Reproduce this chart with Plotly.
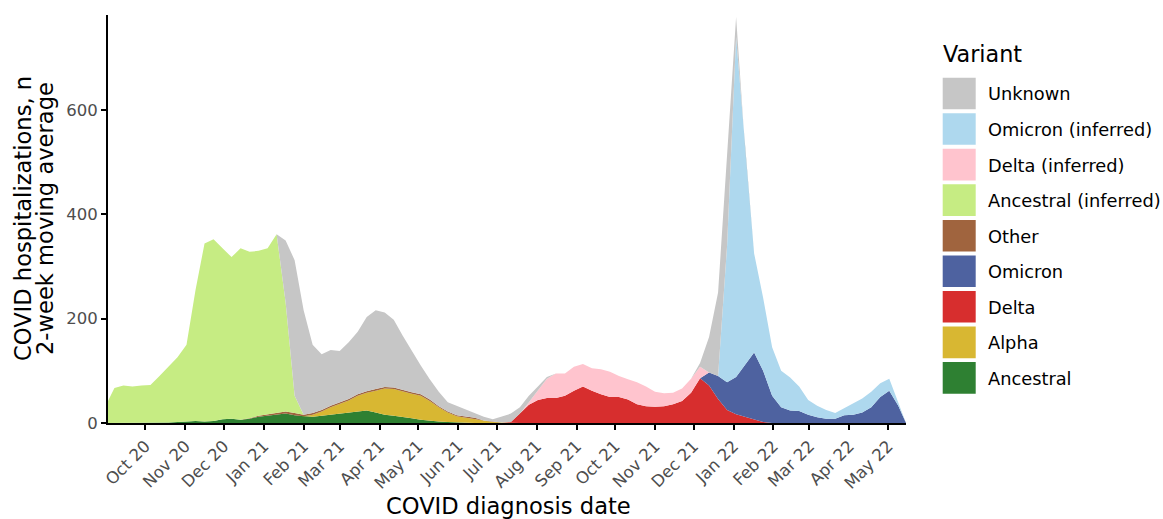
import pandas as pd
import plotly.graph_objects as go

# ---- categories (dates) ----
dates = (["2020-09-02"]
         + [d.strftime("%Y-%m-%d") for d in pd.date_range("2020-09-07", "2022-05-09", freq="7D")]
         + ["2022-05-15"])

# ---- series values (2-week moving average of hospitalizations) ----
ancestral = [0, 0, 0, 0, 0, 0, 0, 1, 2, 3,
             4, 3, 4, 7, 8, 6, 8, 12, 14, 16,
             18, 15, 13, 12, 14, 16, 18, 20, 22, 24,
             20, 16, 14, 12, 9, 6, 4, 3, 2, 1,
             0, 0, 0, 0, 0, 0, 0, 0, 0, 0,
             0, 0, 0, 0, 0, 0, 0, 0, 0, 0,
             0, 0, 0, 0, 0, 0, 0, 0, 0, 0,
             0, 0, 0, 0, 0, 0, 0, 0, 0, 0,
             0, 0, 0, 0, 0, 0, 0, 0, 0, 0]

alpha = [0, 0, 0, 0, 0, 0, 0, 0, 0, 0,
         0, 0, 0, 0, 0, 0, 0, 0, 0, 0,
         0, 0, 0, 4, 8, 14, 19, 23, 30, 34,
         42, 50, 51, 48, 47, 46, 38, 27, 18, 12,
         10, 8, 4, 2, 1, 0, 0, 0, 0, 0,
         0, 0, 0, 0, 0, 0, 0, 0, 0, 0,
         0, 0, 0, 0, 0, 0, 0, 0, 0, 0,
         0, 0, 0, 0, 0, 0, 0, 0, 0, 0,
         0, 0, 0, 0, 0, 0, 0, 0, 0, 0]

delta = [0, 0, 0, 0, 0, 0, 0, 0, 0, 0,
         0, 0, 0, 0, 0, 0, 0, 0, 0, 0,
         0, 0, 0, 0, 0, 0, 0, 0, 0, 0,
         0, 0, 0, 0, 0, 0, 0, 0, 0, 0,
         0, 0, 0, 0, 0, 2, 18, 35, 44, 48,
         48, 52, 62, 70, 62, 55, 50, 50, 45, 36,
         32, 31, 32, 36, 42, 58, 86, 72, 46, 25,
         17, 12, 7, 2, 0, 0, 0, 0, 0, 0,
         0, 0, 0, 0, 0, 0, 0, 0, 0, 0]

omicron = [0, 0, 0, 0, 0, 0, 0, 0, 0, 0,
           0, 0, 0, 0, 0, 0, 0, 0, 0, 0,
           0, 0, 0, 0, 0, 0, 0, 0, 0, 0,
           0, 0, 0, 0, 0, 0, 0, 0, 0, 0,
           0, 0, 0, 0, 0, 0, 0, 0, 0, 0,
           0, 0, 0, 0, 0, 0, 0, 0, 0, 0,
           0, 0, 0, 0, 0, 0, 0, 25, 44, 53,
           71, 100, 128, 98, 52, 30, 24, 23, 16, 11,
           8, 8, 15, 16, 20, 30, 50, 62, 33, 0]

other = [0, 0, 0, 0, 0, 0, 0, 0, 0, 0,
         0, 0, 0, 0, 0, 0, 1, 2, 3, 3,
         4, 4, 3, 3, 3, 3, 3, 3, 3, 3,
         3, 3, 3, 3, 3, 3, 3, 2, 2, 2,
         2, 2, 1, 1, 0, 0, 0, 0, 0, 0,
         0, 0, 0, 0, 0, 0, 0, 0, 0, 0,
         0, 0, 0, 0, 0, 0, 0, 0, 0, 0,
         0, 0, 0, 0, 0, 0, 0, 0, 0, 0,
         0, 0, 0, 0, 0, 0, 0, 0, 0, 0]

ancestral_inferred = [42, 67, 72, 70, 72, 73, 90, 107, 124, 147,
                      251, 341, 348, 328, 310, 329, 319, 316, 318, 343,
                      209, 33, 0, 0, 0, 0, 0, 0, 0, 0,
                      0, 0, 0, 0, 0, 0, 0, 0, 0, 0,
                      0, 0, 0, 0, 0, 0, 0, 0, 0, 0,
                      0, 0, 0, 0, 0, 0, 0, 0, 0, 0,
                      0, 0, 0, 0, 0, 0, 0, 0, 0, 0,
                      0, 0, 0, 0, 0, 0, 0, 0, 0, 0,
                      0, 0, 0, 0, 0, 0, 0, 0, 0, 0]

delta_inferred = [0, 0, 0, 0, 0, 0, 0, 0, 0, 0,
                  0, 0, 0, 0, 0, 0, 0, 0, 0, 0,
                  0, 0, 0, 0, 0, 0, 0, 0, 0, 0,
                  0, 0, 0, 0, 0, 0, 0, 0, 0, 0,
                  0, 0, 0, 0, 0, 0, 0, 5, 18, 37,
                  47, 43, 46, 43, 43, 48, 48, 40, 39, 42,
                  38, 29, 25, 22, 24, 27, 22, 0, 0, 0,
                  0, 0, 0, 0, 0, 0, 0, 0, 0, 0,
                  0, 0, 0, 0, 0, 0, 0, 0, 0, 0]

omicron_inferred = [0, 0, 0, 0, 0, 0, 0, 0, 0, 0,
                    0, 0, 0, 0, 0, 0, 0, 0, 0, 0,
                    0, 0, 0, 0, 0, 0, 0, 0, 0, 0,
                    0, 0, 0, 0, 0, 0, 0, 0, 0, 0,
                    0, 0, 0, 0, 0, 0, 0, 0, 0, 0,
                    0, 0, 0, 0, 0, 0, 0, 0, 0, 0,
                    0, 0, 0, 0, 0, 0, 0, 0, 0, 262,
                    652, 413, 190, 140, 93, 70, 63, 47, 28, 22,
                    17, 11, 13, 22, 27, 30, 26, 23, 7, 0]

unknown = [0, 0, 0, 0, 0, 0, 0, 0, 0, 0,
           0, 0, 0, 0, 0, 0, 0, 0, 0, 0,
           119, 260, 200, 131, 107, 107, 98, 109, 120, 142,
           151, 143, 130, 104, 79, 55, 39, 28, 18, 18,
           13, 9, 7, 4, 12, 16, 12, 12, 8, 3,
           0, 0, 0, 0, 0, 0, 0, 0, 0, 0,
           0, 0, 0, 0, 0, 0, 7, 68, 160, 170,
           38, 0, 0, 0, 0, 0, 0, 0, 0, 0,
           0, 0, 0, 0, 0, 0, 0, 0, 0, 0]

y_ticks = [0, 200, 400, 600]

# stacking order: bottom first
series = [
    ("Ancestral", ancestral, "#2E8032"),
    ("Alpha", alpha, "#D8B732"),
    ("Delta", delta, "#D72E2E"),
    ("Omicron", omicron, "#4E62A0"),
    ("Other", other, "#A0643E"),
    ("Ancestral (inferred)", ancestral_inferred, "#C6EC83"),
    ("Delta (inferred)", delta_inferred, "#FFC4CE"),
    ("Omicron (inferred)", omicron_inferred, "#AED8EE"),
    ("Unknown", unknown, "#C6C6C6"),
]

for _, vals, _c in series:
    assert len(vals) == len(dates), (len(vals), len(dates))

fig = go.Figure()
for name, vals, col in series:
    fig.add_trace(go.Scatter(
        x=dates, y=vals, name=name, mode="lines", stackgroup="one",
        line=dict(width=0, color=col), fillcolor=col, showlegend=False,
    ))

W, H = 1163, 519
L, R, T, B = 108, 906, 15, 423  # plot area in pixels


def px(xp):
    return (xp - L) / (R - L)


def py(yp):
    return (B - yp) / (B - T)


FONT = "DejaVu Sans"
TICK_SIZE = 16.5
TICK_COLOR = "#4D4D4D"

fig.update_layout(
    template="none",
    width=W, height=H,
    margin=dict(l=L, r=W - R, t=T, b=H - B, pad=0),
    plot_bgcolor="white", paper_bgcolor="white",
    font=dict(family=FONT, size=TICK_SIZE, color="black"),
    showlegend=False,
)
fig.update_xaxes(
    type="date", range=["2020-09-02", "2022-05-15"],
    tickformat="%b %y", dtick="M1", tick0="2020-10-01", tickangle=-45,
    ticks="outside", ticklen=5, tickwidth=1.5, tickcolor="black",
    showline=True, linecolor="black", linewidth=2,
    showgrid=False, zeroline=False, automargin=False,
    tickfont_family=FONT, tickfont_size=TICK_SIZE, tickfont_color=TICK_COLOR,
)
fig.update_yaxes(
    range=[0, 782], tickvals=y_ticks,
    ticks="outside", ticklen=5, tickwidth=1.5, tickcolor="black",
    showline=True, linecolor="black", linewidth=2,
    showgrid=False, zeroline=False, automargin=False,
    tickfont_family=FONT, tickfont_size=TICK_SIZE, tickfont_color=TICK_COLOR,
)

annotations = []
# axis titles
annotations.append(dict(text="COVID diagnosis date", x=px(508), y=py(506),
                        xref="paper", yref="paper", xanchor="center", yanchor="middle",
                        showarrow=False, font=dict(family=FONT, size=22.6, color="black")))
annotations.append(dict(text="COVID hospitalizations, n", x=px(23), y=0.5,
                        xref="paper", yref="paper", xanchor="center", yanchor="middle",
                        textangle=-90, showarrow=False,
                        font=dict(family=FONT, size=22.6, color="black")))
annotations.append(dict(text="2-week moving average", x=px(45), y=0.5,
                        xref="paper", yref="paper", xanchor="center", yanchor="middle",
                        textangle=-90, showarrow=False,
                        font=dict(family=FONT, size=22.6, color="black")))

# legend (drawn manually to reproduce large square keys)
annotations.append(dict(text="Variant", x=px(941), y=py(54),
                        xref="paper", yref="paper", xanchor="left", yanchor="middle",
                        showarrow=False, font=dict(family=FONT, size=22.3, color="black")))
shapes = []
legend_order = list(reversed(series))
for k, (name, _v, col) in enumerate(legend_order):
    top = 77.7 + 35.55 * k
    shapes.append(dict(type="rect", xref="paper", yref="paper",
                       x0=px(942.7), x1=px(975.7), y0=py(top + 31.6), y1=py(top),
                       fillcolor=col, line=dict(width=0)))
    annotations.append(dict(text=name, x=px(986), y=py(top + 16.2),
                            xref="paper", yref="paper", xanchor="left", yanchor="middle",
                            showarrow=False, font=dict(family=FONT, size=17.8, color="black")))

fig.update_layout(annotations=annotations, shapes=shapes)
fig.write_html("out.html",
               config={"displayModeBar": False},
               post_script="document.body.style.margin='0';document.body.style.padding='0';")
